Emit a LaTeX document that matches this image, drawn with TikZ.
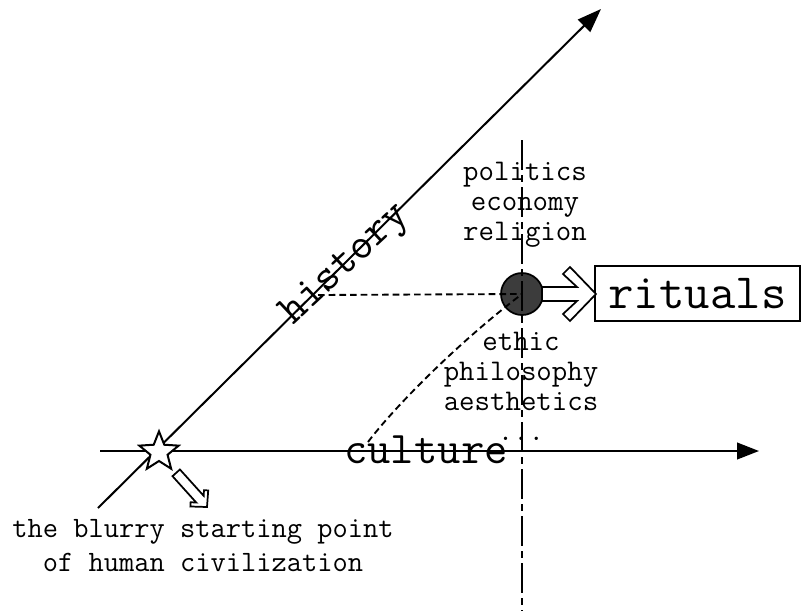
\documentclass[tikz,border=0pt]{standalone}
\usepackage{tikz}
\usetikzlibrary{arrows.meta,positioning,calc,shapes.geometric}
\definecolor{HubGray}{HTML}{3C3C3C}

\tikzset{
  axis/.style={line width=1.5pt},
  hollow/.style={draw,fill=white,line width=1.3pt,line join=miter},
  smalltxt/.style={font=\ttfamily\fontsize{22.5}{22.5}\selectfont,align=center,inner sep=0pt},
  bigtxt/.style={font=\ttfamily\fontsize{#1}{#1}\selectfont,inner sep=0pt},
}

\begin{document}
\begin{tikzpicture}[x=0.75pt,y=-0.75pt,line cap=butt]
  \useasboundingbox (0,0) rectangle (803,611);

  % axes
  \draw[axis,-{Triangle[length=16.5pt,width=12.5pt]}] (100,451) -- (759,451);
  \draw[axis,-{Triangle[length=18pt,width=13pt]}] (98,508) -- (601,9);

  % labels on the axes
  \node[bigtxt=33,rotate=43] (history) at (346,265) {history};
  \node[bigtxt=34,anchor=base] (culture) at (426,463) {culture};

  % the point where history meets culture
  \node[circle,fill=HubGray,draw,line width=1.3pt,minimum size=31.5pt,inner sep=0pt]
       (hub) at (522,294) {};
  \coordinate (hline) at (318,295);
  \coordinate (cstart) at (368,442);
  \draw[line width=1.4pt,dash pattern=on 5pt off 3pt] (hline) -- (hub.center);
  \draw[line width=1.4pt,dash pattern=on 5pt off 3pt]
       (cstart) .. controls (392,410) and (455,345) .. (hub.center);
  \draw[line width=1.5pt,dash pattern=on 22.5pt off 3.75pt on 5.25pt off 3.75pt]
       (522,140) -- (522,611);

  % what grows out of it
  \node[smalltxt] (upper) at (525,205) {politics\\economy\\religion};
  \node[smalltxt] (lower) at (521,386) {ethic\\philosophy\\aesthetics\\...};

  \node[draw,line width=1.5pt,minimum width=153.75pt,minimum height=41.25pt,
        bigtxt=37] (rituals) at (697.5,293.5) {rituals};
  \begin{scope}[shift={(596,294)}]
    \draw[hollow] (-54,-7) -- (-19,-7) -- (-33,-20) -- (-26,-27) -- (0,0)
          -- (-26,27) -- (-33,20) -- (-19,7) -- (-54,7) -- cycle;
  \end{scope}

  % starting point
  \node[star,star points=5,star point ratio=2.3,minimum size=31pt,inner sep=0pt,
        draw,fill=white,line width=1.5pt] (origin) at (159,452) {};
  \begin{scope}[shift={(207,507)},rotate=-48]
    \draw[hollow] (-46,-5) -- (-10.5,-5) -- (-14.5,-9) -- (-11.5,-12) -- (0,0)
          -- (-11.5,12) -- (-14.5,9) -- (-10.5,5) -- (-46,5) -- cycle;
  \end{scope}
  \node[smalltxt,font=\ttfamily\fontsize{22.2}{25.5}\selectfont] (note) at (203,546)
       {the blurry starting point\\of human civilization};
\end{tikzpicture}
\end{document}
